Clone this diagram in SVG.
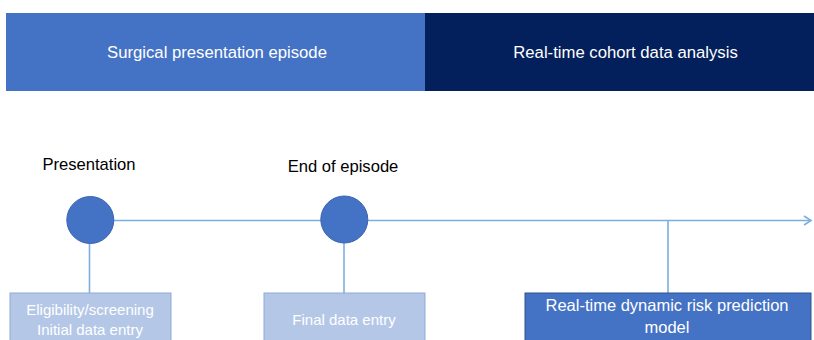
<svg xmlns="http://www.w3.org/2000/svg" width="814" height="340" viewBox="0 0 814 340">
<style>
text{font-family:"Liberation Sans",Arial,sans-serif;text-anchor:middle}
.hdr{fill:#fff;font-size:16.7px}
.lbl{fill:#000;font-size:16.6px}
.box{fill:#fff;font-size:15px}
.big{font-size:16.5px}
.conn{stroke:#7DAEE0;stroke-width:1.6;fill:none}
.dot{fill:#4472C4;stroke:#3B65B0;stroke-width:1}
</style>
<defs>
<marker id="arr" markerWidth="10" markerHeight="12" refX="8" refY="6" orient="auto" markerUnits="userSpaceOnUse">
<path d="M1,1.5 L8,6 L1,10.5" fill="none" stroke="#7DAEE0" stroke-width="1.6"/>
</marker>
</defs>
<g id="header-left">
<rect x="6" y="13" width="419" height="78" fill="#4472C4"/>
<text class="hdr" x="217" y="57.5">Surgical presentation episode</text>
</g>
<g id="header-right">
<rect x="425" y="13" width="389" height="78" fill="#03205C"/>
<text class="hdr" x="625.5" y="57.5">Real-time cohort data analysis</text>
</g>
<g id="connectors">
<line class="conn" x1="90" y1="220.5" x2="811" y2="220.5" marker-end="url(#arr)"/>
<line class="conn" x1="89.5" y1="220" x2="89.5" y2="293"/>
<line class="conn" x1="344" y1="220" x2="344" y2="293"/>
<line class="conn" x1="668" y1="220.5" x2="668" y2="293"/>
</g>
<g id="presentation">
<text class="lbl" x="89" y="170">Presentation</text>
<circle class="dot" cx="90.3" cy="220" r="23.5"/>
</g>
<g id="end-of-episode">
<text class="lbl" x="343" y="172">End of episode</text>
<circle class="dot" cx="344.3" cy="219.5" r="23.5"/>
</g>
<g id="eligibility">
<rect x="10" y="293" width="161" height="60" fill="#B4C7E7" stroke="#8FAADC" stroke-width="1"/>
<text class="box" x="90" y="315">Eligibility/screening</text>
<text class="box" x="90" y="335">Initial data entry</text>
</g>
<g id="final-data">
<rect x="264" y="293" width="161" height="60" fill="#B4C7E7" stroke="#8FAADC" stroke-width="1"/>
<text class="box" x="344" y="325">Final data entry</text>
</g>
<g id="risk-model">
<rect x="525" y="293" width="286" height="60" fill="#4472C4" stroke="#2F528F" stroke-width="1"/>
<text class="box big" x="667" y="311">Real-time dynamic risk prediction</text>
<text class="box big" x="667" y="333">model</text>
</g>
</svg>
